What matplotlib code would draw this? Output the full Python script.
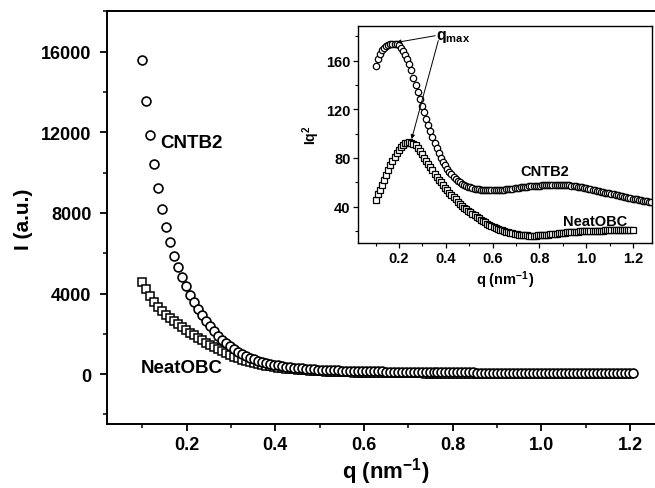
import numpy as np
import matplotlib
matplotlib.use("Agg")
import matplotlib.pyplot as plt
from matplotlib.ticker import MultipleLocator

plt.rcParams['font.family'] = ['Liberation Sans', 'DejaVu Sans']
plt.rcParams['font.weight'] = 'bold'
plt.rcParams['mathtext.fontset'] = 'custom'
plt.rcParams['mathtext.rm'] = 'Liberation Sans:bold'
plt.rcParams['mathtext.it'] = 'Liberation Sans:bold'

# scattering vector q (nm^-1)
q = np.array([
    0.100, 0.109, 0.118, 0.127, 0.136, 0.145, 0.154, 0.163, 0.172, 0.181,
    0.190, 0.199, 0.208, 0.217, 0.226, 0.235, 0.244, 0.253, 0.262, 0.271,
    0.280, 0.289, 0.298, 0.307, 0.316, 0.325, 0.334, 0.343, 0.352, 0.361,
    0.370, 0.379, 0.388, 0.397, 0.406, 0.415, 0.424, 0.433, 0.442, 0.451,
    0.460, 0.469, 0.478, 0.487, 0.496, 0.505, 0.514, 0.523, 0.532, 0.541,
    0.550, 0.559, 0.568, 0.577, 0.586, 0.595, 0.604, 0.613, 0.622, 0.631,
    0.640, 0.649, 0.658, 0.667, 0.676, 0.685, 0.694, 0.703, 0.712, 0.721,
    0.730, 0.739, 0.748, 0.757, 0.766, 0.775, 0.784, 0.793, 0.802, 0.811,
    0.820, 0.829, 0.838, 0.847, 0.856, 0.865, 0.874, 0.883, 0.892, 0.901,
    0.910, 0.919, 0.928, 0.937, 0.946, 0.955, 0.964, 0.973, 0.982, 0.991,
    1.000, 1.009, 1.018, 1.027, 1.036, 1.045, 1.054, 1.063, 1.072, 1.081,
    1.090, 1.099, 1.108, 1.117, 1.126, 1.135, 1.144, 1.153, 1.162, 1.171,
    1.180, 1.189, 1.198, 1.207, 1.216, 1.225, 1.234, 1.243, 1.252, 1.261,
    1.270, 1.279])

# Kratky-type values I*q^2
iq2_cntb2 = np.array([
    156.0, 161.0, 165.5, 168.5, 170.5, 172.0, 173.0, 173.7, 174.0, 174.0,
    173.7, 172.6, 170.5, 168.0, 165.0, 161.5, 157.0, 152.0, 146.0, 140.0,
    134.0, 128.5, 123.0, 117.5, 112.0, 107.0, 102.0, 97.0, 92.0, 88.0,
    84.0, 80.0, 77.0, 74.0, 71.0, 68.5, 66.5, 64.5, 62.8, 61.2,
    60.0, 58.8, 57.8, 57.0, 56.3, 55.7, 55.2, 54.8, 54.4, 54.1,
    53.9, 53.7, 53.6, 53.5, 53.4, 53.4, 53.4, 53.4, 53.5, 53.6,
    53.8, 54.0, 54.2, 54.4, 54.6, 54.8, 55.0, 55.2, 55.5, 55.7,
    55.9, 56.1, 56.3, 56.5, 56.7, 56.9, 57.1, 57.2, 57.3, 57.4,
    57.5, 57.6, 57.7, 57.8, 57.8, 57.9, 57.9, 57.9, 57.8, 57.8,
    57.7, 57.6, 57.4, 57.2, 57.0, 56.7, 56.4, 56.1, 55.7, 55.3,
    54.9, 54.5, 54.1, 53.7, 53.3, 53.0, 52.6, 52.2, 51.8, 51.5,
    51.1, 50.8, 50.4, 50.0, 49.6, 49.2, 48.8, 48.5, 48.1, 47.7,
    47.3, 46.9, 46.5, 46.2, 45.8, 45.5, 45.2, 44.8, 44.5, 44.2,
    43.9, 43.6])

iq2_neat = np.array([
    45.5, 50.0, 54.0, 58.0, 62.0, 66.0, 70.0, 74.0, 77.5, 81.0,
    84.0, 86.5, 89.0, 90.8, 92.0, 92.6, 92.8, 92.6, 91.8, 90.5,
    88.5, 86.0, 83.0, 80.2, 77.5, 75.0, 72.3, 69.7, 67.0, 64.5,
    62.0, 59.8, 57.6, 55.4, 53.3, 51.3, 49.4, 47.6, 45.8, 44.0,
    42.3, 40.7, 39.2, 37.8, 36.5, 35.2, 34.0, 32.8, 31.5, 30.3,
    29.2, 28.1, 27.0, 26.0, 25.0, 24.1, 23.2, 22.4, 21.6, 20.9,
    20.3, 19.7, 19.2, 18.7, 18.3, 17.9, 17.5, 17.2, 16.9, 16.7,
    16.5, 16.3, 16.2, 16.1, 16.1, 16.1, 16.1, 16.2, 16.3, 16.4,
    16.6, 16.8, 17.0, 17.2, 17.4, 17.6, 17.8, 18.0, 18.2, 18.4,
    18.6, 18.7, 18.9, 19.0, 19.1, 19.3, 19.4, 19.5, 19.6, 19.7,
    19.8, 19.9, 20.0, 20.0, 20.1, 20.1, 20.2, 20.2, 20.2, 20.3,
    20.3, 20.3, 20.3, 20.3, 20.4, 20.4, 20.4, 20.4, 20.4, 20.4,
    20.4, 20.4, 20.4])

n_cntb2_main = 124
n_neat = len(iq2_neat)

# intensity in the main panel is I = (I q^2) / q^2
q_c = q[:n_cntb2_main]
I_cntb2 = iq2_cntb2[:n_cntb2_main] / q_c**2
q_n = q[:n_neat]
I_neat = iq2_neat / q_n**2

fig = plt.figure(figsize=(6.55, 4.89), dpi=100)
ax = fig.add_axes([0.1629, 0.1299, 0.853, 0.8446])

ax.plot(q_n, I_neat, ls='none', marker='s', ms=5.6, mfc='white', mec='black', mew=1.1)
ax.plot(q_c, I_cntb2, ls='none', marker='o', ms=6.4, mfc='white', mec='black', mew=1.2)

ax.set_xlim(0.02, 1.28)
ax.set_ylim(-2500, 18000)
ax.xaxis.set_minor_locator(MultipleLocator(0.1))
ax.yaxis.set_major_locator(MultipleLocator(4000))
ax.yaxis.set_minor_locator(MultipleLocator(2000))
ax.set_xticks([0.2, 0.4, 0.6, 0.8, 1.0, 1.2])
ax.set_xticklabels(['0.2', '0.4', '0.6', '0.8', '1.0', '1.2'])
ax.tick_params(which='major', direction='out', length=5, width=1.3, labelsize=13)
ax.tick_params(axis='y', which='major', pad=6)
ax.tick_params(which='minor', direction='out', length=3, width=1.1)
for side in ['left', 'bottom', 'top']:
    ax.spines[side].set_linewidth(1.4)
ax.spines['right'].set_visible(False)
ax.set_xlabel('q (nm$^{-1}$)', fontsize=16, fontweight='bold', labelpad=1)
ax.set_ylabel('I (a.u.)', fontsize=15, fontweight='bold', labelpad=6)

ax.text(0.141, 11500, 'CNTB2', fontsize=13.5, fontweight='bold', ha='left', va='center')
ax.text(0.097, 350, 'NeatOBC', fontsize=13.5, fontweight='bold', ha='left', va='center')

# inset: I q^2 vs q
ins = fig.add_axes([0.5466, 0.501, 0.4484, 0.4438])
ins.plot(q_n, iq2_neat, ls='none', marker='s', ms=4.3, mfc='white', mec='black', mew=0.9)
ins.plot(q, iq2_cntb2, ls='none', marker='o', ms=4.6, mfc='white', mec='black', mew=0.9)
ins.set_xlim(0.025, 1.28)
ins.set_ylim(10, 188.5)
ins.xaxis.set_minor_locator(MultipleLocator(0.1))
ins.yaxis.set_major_locator(MultipleLocator(40))
ins.yaxis.set_minor_locator(MultipleLocator(20))
ins.set_xticks([0.2, 0.4, 0.6, 0.8, 1.0, 1.2])
ins.set_xticklabels(['0.2', '0.4', '0.6', '0.8', '1.0', '1.2'])
ins.tick_params(which='major', direction='out', length=3.5, width=0.9, labelsize=10.5, pad=2)
ins.tick_params(which='minor', direction='out', length=2, width=0.8)
for s in ins.spines.values():
    s.set_linewidth(1.0)
ins.set_xlabel('q (nm$^{-1}$)', fontsize=10.5, fontweight='bold', labelpad=3)
ins.set_ylabel('Iq$^2$', fontsize=10, fontweight='bold', labelpad=3)

ins.text(0.824, 69.5, 'CNTB2', fontsize=10.5, fontweight='bold', ha='center', va='center')
ins.text(1.04, 28, 'NeatOBC', fontsize=10.5, fontweight='bold', ha='center', va='center')
ins.text(0.36, 180.5, 'q$_{\\mathregular{max}}$', fontsize=11.5, fontweight='bold',
         ha='left', va='center')
arrow_kw = dict(arrowstyle='-|>', color='black', lw=0.7, mutation_scale=6,
                shrinkA=0, shrinkB=0)
ins.annotate('', xy=(0.19, 175.0), xytext=(0.355, 180.5), arrowprops=arrow_kw)
ins.annotate('', xy=(0.254, 95.5), xytext=(0.368, 176.5), arrowprops=arrow_kw)

fig.savefig('out.png', dpi=100, facecolor='white')
